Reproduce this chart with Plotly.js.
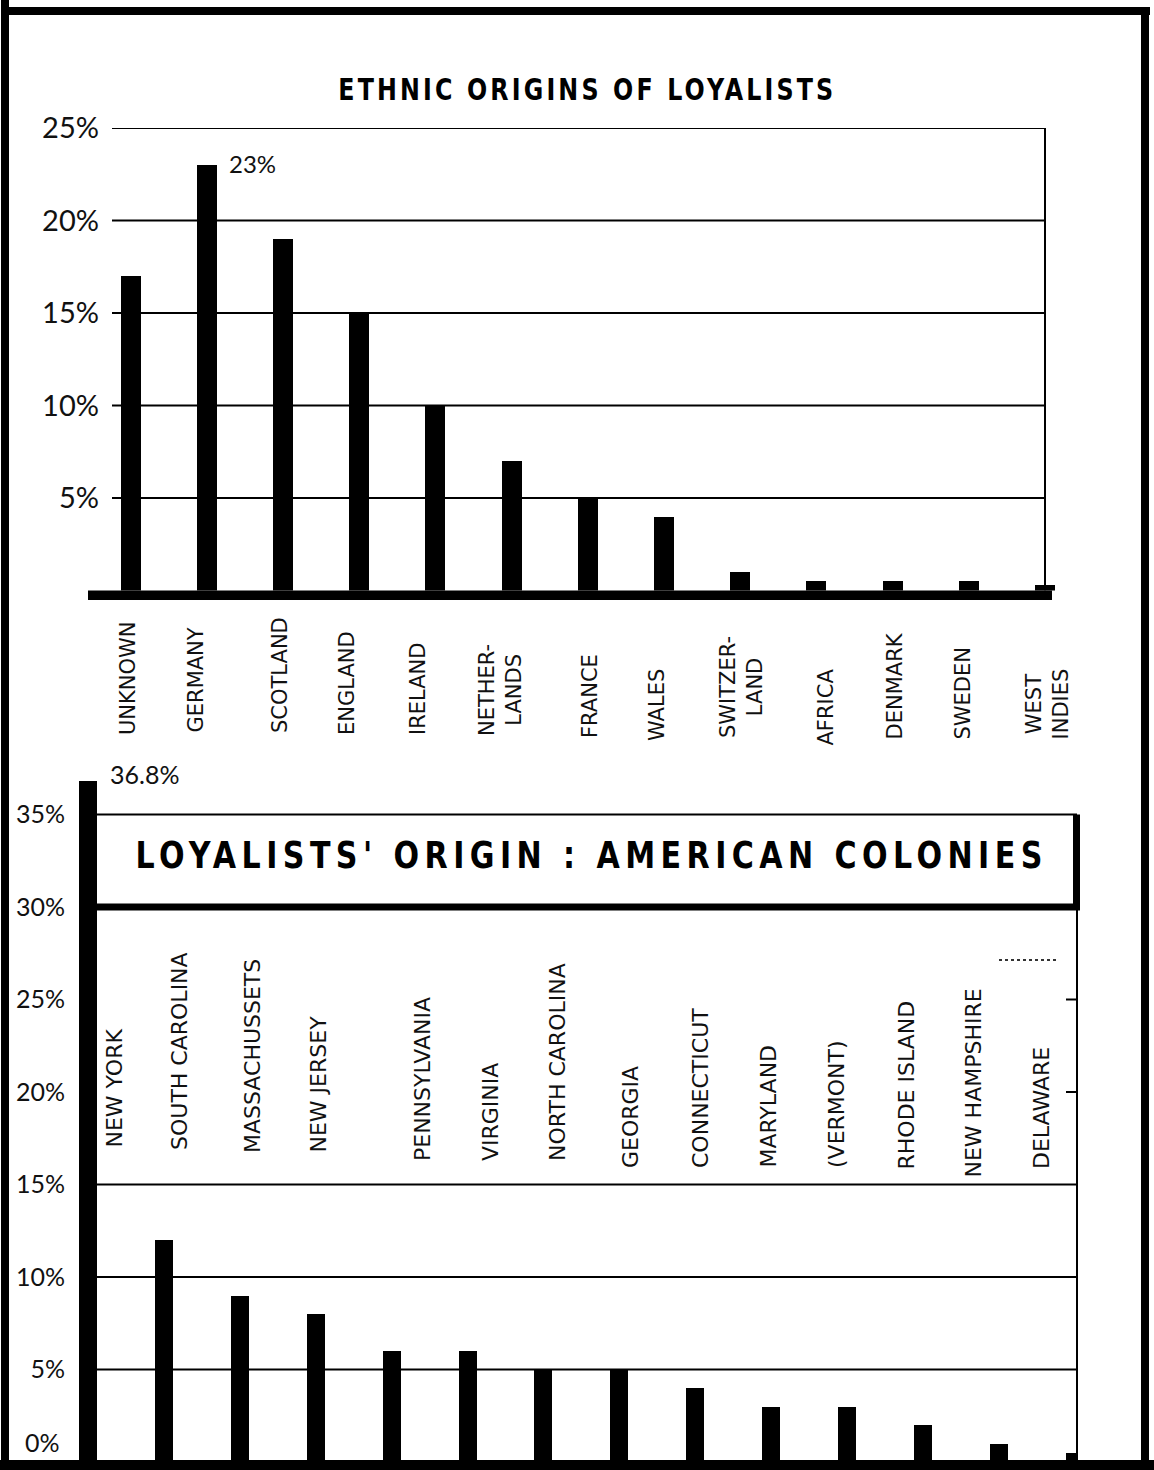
<!DOCTYPE html>
<html>
<head>
<meta charset="utf-8">
<script src="https://cdn.plot.ly/plotly-3.0.1.min.js"></script>
<style>
html,body{margin:0;padding:0;background:#fff;}
#chart{width:1154px;height:1470px;}
</style>
</head>
<body>
<div id="chart"></div>
<script>
// ---------------- DATA ----------------
const ethnicCategories = ['UNKNOWN','GERMANY','SCOTLAND','ENGLAND','IRELAND','NETHERLANDS','FRANCE','WALES','SWITZERLAND','AFRICA','DENMARK','SWEDEN','WEST INDIES'];
const ethnicLabels = ['UNKNOWN','GERMANY','SCOTLAND','ENGLAND','IRELAND','NETHER-<br>LANDS','FRANCE','WALES','SWITZER-<br>LAND','AFRICA','DENMARK','SWEDEN','WEST<br>INDIES'];
const ethnicValues = [17, 23, 19, 15, 10, 7, 5, 4, 1, 0.5, 0.5, 0.5, 0.3];
const ethnicTickVals = [5, 10, 15, 20, 25];

const colonyCategories = ['NEW YORK','SOUTH CAROLINA','MASSACHUSSETS','NEW JERSEY','PENNSYLVANIA','VIRGINIA','NORTH CAROLINA','GEORGIA','CONNECTICUT','MARYLAND','(VERMONT)','RHODE ISLAND','NEW HAMPSHIRE','DELAWARE'];
const colonyValues = [36.8, 12, 9, 8, 6, 6, 5, 5, 4, 3, 3, 2, 1, 0.5];
const colonyTickVals = [5, 10, 15, 20, 25, 30, 35];

const title1 = 'ETHNIC ORIGINS OF LOYALISTS';
const title2 = "LOYALISTS' ORIGIN : AMERICAN COLONIES";

// ---------------- LAYOUT GEOMETRY (pixels) ----------------
const W = 1154, H = 1470;
const px = x => x / W;
const py = y => 1 - y / H;

const topLabelX = [128, 195, 280, 347, 418, 500, 590, 657, 741, 825, 894, 962, 1047];
const topLabelBottom = [737, 735, 735, 737, 737, 738, 740, 743, 740, 748, 742, 742, 742];
const botLabelX = [114, 179, 252, 318, 422, 490, 557, 630, 700, 768, 836, 906, 973, 1041];
const botLabelBottom = [1150, 1152, 1155, 1155, 1163, 1163, 1163, 1170, 1170, 1170, 1170, 1172, 1180, 1171];

const INK = '#000';
const tickFont = "Lato, 'Open Sans', sans-serif";
const labelFont = "'DejaVu Sans', sans-serif";
const titleFont = "'Liberation Sans Narrow', 'DejaVu Sans Condensed', 'Arial Narrow', 'DejaVu Sans', sans-serif";

// ---------------- TRACES ----------------
const data = [
  {
    type: 'bar', x: ethnicCategories, y: ethnicValues, xaxis: 'x', yaxis: 'y',
    width: 20 / 76.2, marker: {color: INK, line: {width: 0}}, hoverinfo: 'skip'
  },
  {
    type: 'bar', x: colonyCategories, y: colonyValues, xaxis: 'x2', yaxis: 'y2',
    width: 18 / 75.9, marker: {color: INK, line: {width: 0}}, hoverinfo: 'skip'
  }
];

// ---------------- SHAPES ----------------
const shapes = [];
function rectPx(x0, y0, x1, y1) {
  shapes.push({type: 'rect', xref: 'paper', yref: 'paper', x0: px(x0), x1: px(x1), y0: py(y1), y1: py(y0),
    fillcolor: INK, line: {width: 0}, layer: 'above'});
}
// outer frame
rectPx(1, 0, 9, 1470);
rectPx(1, 7, 1150, 15);
rectPx(1141, 7, 1149, 1470);

// top chart gridlines and right edge
ethnicTickVals.forEach(v => shapes.push({type: 'line', xref: 'paper', yref: 'y', x0: px(112), x1: px(1045), y0: v, y1: v, line: {color: INK, width: 2}}));
shapes.push({type: 'line', xref: 'paper', yref: 'y', x0: px(1045), x1: px(1045), y0: 0, y1: 25, line: {color: INK, width: 2}});
rectPx(88, 590.5, 1052, 600);

// bottom chart gridlines
[5, 10, 15, 35].forEach(v => shapes.push({type: 'line', xref: 'paper', yref: 'y2', x0: px(97), x1: px(1077), y0: v, y1: v, line: {color: INK, width: 2}}));
[20, 25].forEach(v => shapes.push({type: 'line', xref: 'paper', yref: 'y2', x0: px(1066), x1: px(1077), y0: v, y1: v, line: {color: INK, width: 2}}));
shapes.push({type: 'line', xref: 'paper', yref: 'y2', x0: px(1077), x1: px(1077), y0: 0, y1: 30, line: {color: INK, width: 2}});
// title box (thick bottom and right)
shapes.push({type: 'line', xref: 'paper', yref: 'y2', x0: px(97), x1: px(1080), y0: 30, y1: 30, line: {color: INK, width: 7}});
shapes.push({type: 'line', xref: 'paper', yref: 'y2', x0: px(1076.5), x1: px(1076.5), y0: 30, y1: 35, line: {color: INK, width: 7}});
// dotted mark above DELAWARE
shapes.push({type: 'line', xref: 'paper', yref: 'paper', x0: px(999), x1: px(1057), y0: py(960), y1: py(960), line: {color: '#333', width: 2, dash: 'dot'}});
// bottom baseline
rectPx(0, 1460, 1154, 1470);

// ---------------- ANNOTATIONS ----------------
const annotations = [];
annotations.push({text: title1, xref: 'paper', yref: 'paper', x: px(585.5), y: py(89), xanchor: 'center', yanchor: 'middle',
  showarrow: false, font: {family: titleFont, size: 30, color: INK, weight: 'bold'}});
annotations.push({text: title2, xref: 'paper', yref: 'paper', x: px(588.5), y: py(855), xanchor: 'center', yanchor: 'middle',
  showarrow: false, font: {family: titleFont, size: 38, color: INK, weight: 'bold'}});

ethnicLabels.forEach((lab, i) => annotations.push({
  text: lab, xref: 'paper', yref: 'paper', x: px(topLabelX[i]), y: py(topLabelBottom[i]),
  xanchor: 'center', yanchor: 'bottom', textangle: -90, showarrow: false, align: 'center',
  font: {family: labelFont, size: 21, color: '#111'}
}));
colonyCategories.forEach((lab, i) => annotations.push({
  text: lab, xref: 'paper', yref: 'paper', x: px(botLabelX[i]), y: py(botLabelBottom[i]),
  xanchor: 'center', yanchor: 'bottom', textangle: -90, showarrow: false,
  font: {family: labelFont, size: 22, color: '#111'}
}));

// value callouts
const gi = ethnicValues.indexOf(Math.max(...ethnicValues));
annotations.push({text: ethnicValues[gi] + '%', xref: 'x', yref: 'y', x: ethnicCategories[gi], y: ethnicValues[gi],
  xanchor: 'left', yanchor: 'middle', xshift: 20, yshift: 2, showarrow: false,
  font: {family: tickFont, size: 24, color: '#111'}});
const ci = colonyValues.indexOf(Math.max(...colonyValues));
annotations.push({text: colonyValues[ci] + '%', xref: 'x2', yref: 'y2', x: colonyCategories[ci], y: colonyValues[ci],
  xanchor: 'left', yanchor: 'middle', xshift: 20, yshift: 7, showarrow: false,
  font: {family: tickFont, size: 25, color: '#111'}});
// 0% label of the lower chart
annotations.push({text: '0%', xref: 'paper', yref: 'y2', x: px(62), y: 1.1, xanchor: 'right', yanchor: 'middle',
  showarrow: false, font: {family: tickFont, size: 25, color: '#111'}});

// ---------------- LAYOUT ----------------
const layout = {
  width: W, height: H,
  margin: {l: 0, r: 0, t: 0, b: 0, pad: 0},
  paper_bgcolor: '#fff', plot_bgcolor: 'rgba(0,0,0,0)',
  showlegend: false, bargap: 0,
  xaxis: {domain: [px(112), px(1055)], range: [(112 - 130.5) / 76.2, (1055 - 130.5) / 76.2], type: 'category',
    showticklabels: false, showgrid: false, zeroline: false, showline: false, ticks: '', anchor: 'y', fixedrange: true},
  yaxis: {domain: [py(590.5), py(128)], range: [0, 25], tickvals: ethnicTickVals, ticktext: ethnicTickVals.map(v => v + '%'),
    showgrid: false, zeroline: false, showline: false, ticks: '', ticklabelstandoff: 12, anchor: 'x',
    tickfont: {family: tickFont, size: 29, color: '#111'}, fixedrange: true},
  xaxis2: {domain: [px(78), px(1077)], range: [(78 - 88) / 75.9, (1077 - 88) / 75.9], type: 'category',
    showticklabels: false, showgrid: false, zeroline: false, showline: false, ticks: '', anchor: 'y2', fixedrange: true},
  yaxis2: {domain: [py(1462), py(760)], range: [0, (1462 - 760) / 18.5], tickvals: colonyTickVals, ticktext: colonyTickVals.map(v => v + '%'),
    showgrid: false, zeroline: false, showline: false, ticks: '', ticklabelstandoff: 12, anchor: 'x2',
    tickfont: {family: tickFont, size: 25, color: '#111'}, fixedrange: true},
  shapes: shapes,
  annotations: annotations
};

Plotly.newPlot('chart', data, layout, {staticPlot: true, displayModeBar: false}).then(gd => {
  // give the two stencil-style titles slightly narrow glyphs and wider spacing, as in the original
  const squeeze = 0.88;
  const targets = [[0, 495], [1, 907]];
  targets.forEach(([idx, target]) => {
    const t = gd.querySelector('g.annotation[data-index="' + idx + '"] text.annotation-text');
    if (!t) return;
    const w = t.getComputedTextLength();
    const n = t.textContent.length;
    const cx = parseFloat(t.getAttribute('x'));
    if (isNaN(cx)) {
      const ls0 = (target - w) / Math.max(1, n - 1);
      t.style.letterSpacing = ls0.toFixed(2) + 'px';
      return;
    }
    const ls = (target / squeeze - w) / Math.max(1, n - 1);
    t.style.letterSpacing = ls.toFixed(2) + 'px';
    t.setAttribute('x', (cx + ls / 2).toFixed(2));
    t.setAttribute('transform', 'matrix(' + squeeze + ',0,0,1,' + (cx * (1 - squeeze)).toFixed(2) + ',0)');
  });
});
</script>
</body>
</html>
